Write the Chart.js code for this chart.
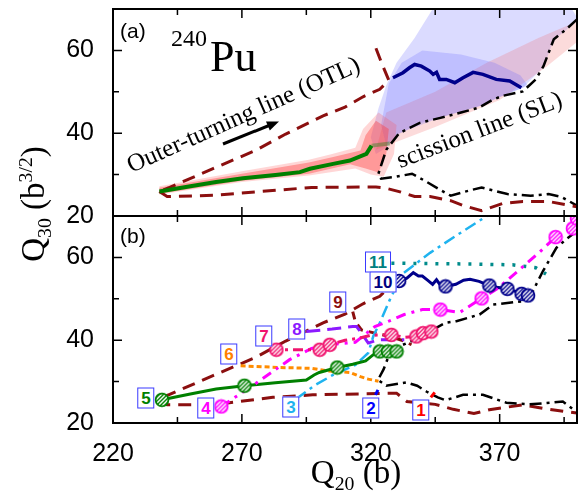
<!DOCTYPE html>
<html>
<head>
<meta charset="utf-8">
<script src="https://cdn.jsdelivr.net/npm/chart.js@4.4.1/dist/chart.umd.min.js"></script>
<style>
  body { margin: 0; background: #fff; width: 585px; height: 493px; position: relative; overflow: hidden; font-family: "Liberation Serif", serif; }
  canvas { position: absolute; left: 0; }
  .txt { position: absolute; white-space: nowrap; line-height: 1; color: #000; }
  .rot { transform: translate(-50%, -50%) rotate(var(--a)); }
  .tag { position: absolute; transform: translate(-50%, -50%); background: #fff; border: 1.5px solid #3a3aff;
         font: bold 17px "Liberation Sans", Arial, sans-serif; line-height: 17px; padding: 1px 3px; }
  sub, sup { font-size: 60%; line-height: 0; }
</style>
</head>
<body>
<canvas id="chartA" width="585" height="230" style="top:0"></canvas>
<canvas id="chartB" width="585" height="293" style="top:200px"></canvas>

<svg style="position:absolute;left:0;top:0" width="585" height="493">
  <line x1="223" y1="144" x2="269" y2="125.5" stroke="#000" stroke-width="3"/>
  <polygon points="279,121.5 269.8,130.6 266,121.4" fill="#000"/>
</svg>

<div class="txt" style="left:120px;top:20px;font:21px 'Liberation Sans',Arial;line-height:1">(a)</div>
<div class="txt" style="left:120px;top:225px;font:21px 'Liberation Sans',Arial;line-height:1">(b)</div>
<div class="txt" style="left:171px;top:26px;font-size:24px">240</div>
<div class="txt" style="left:210px;top:35px;font-size:44px">Pu</div>
<div class="txt rot" style="--a:-24deg;left:243px;top:114px;font-size:25px">Outer-turning line (OTL)</div>
<div class="txt rot" style="--a:-21deg;left:479px;top:129px;font-size:25px">scission line (SL)</div>
<div class="txt rot" style="--a:-90deg;left:33px;top:204px;font-size:33px">Q<sub>30</sub> (b<sup>3/2</sup>)</div>
<div class="txt rot" style="--a:0deg;left:356px;top:472px;font-size:33px">Q<sub>20</sub> (b)</div>

<div class="tag" style="left:421px;top:410px;color:#ff0000">1</div>
<div class="tag" style="left:371px;top:408px;color:#0000ff">2</div>
<div class="tag" style="left:291px;top:407px;color:#1fb3ef">3</div>
<div class="tag" style="left:206px;top:408px;color:#ff00ff">4</div>
<div class="tag" style="left:146px;top:398px;color:#008000">5</div>
<div class="tag" style="left:229px;top:354px;color:#ff8000">6</div>
<div class="tag" style="left:264px;top:336px;color:#f0146e">7</div>
<div class="tag" style="left:297px;top:329px;color:#8c1aff">8</div>
<div class="tag" style="left:338px;top:302px;color:#8b0f0f">9</div>
<div class="tag" style="left:378px;top:262px;color:#008080">11</div>
<div class="tag" style="left:383px;top:282px;color:#00007f">10</div>

<script>
// axes
const xTickVals = [220, 245, 270, 295, 320, 345, 370, 395];
const xTickLabels = ['220', '', '270', '', '320', '', '370', ''];
const yTickVals = [20, 30, 40, 50, 60];
const yTickLabels = ['20', '', '40', '', '60'];

// panel (a): Q20, Q30 pairs
const otlUpper = [[322, 60.5], [324.5, 56.5], [327, 52.8], [323.5, 50.6], [317, 48.8], [310, 46.3], [301.5, 44.2], [296, 42.5], [287, 39.8], [275.5, 35.9], [259, 31.5], [242, 26.9], [238, 25.9]];
const otlLowerA = [[238, 25.9], [241, 24.7], [259, 25.0], [297, 26.9], [322, 27.0], [326, 26.7], [331, 25.9], [337, 24.7], [343, 24.7], [351, 23.7], [356, 22.5], [363, 21.3], [371, 23.0], [379, 23.5], [389, 23.5], [400, 22.2]];
const slA = [[400, 67.5], [396, 65.2], [391, 62.7], [387, 56.2], [384, 53], [379, 50.1], [371, 49], [367, 48], [362, 46.2], [355, 45], [347, 43.7], [339, 42.5], [331, 40], [326, 36], [322.8, 29.9], [324, 29], [329, 29.4], [336, 30.2], [341, 28.5], [347, 26.3], [351, 24.9], [356, 25.8], [363, 26.9], [373, 25.3], [382, 24.9], [389, 25.3], [394, 24.6], [400, 22.5]];
const greenA = [[238, 25.9], [250, 27.2], [260, 28.2], [270.4, 29.1], [283, 29.9], [292.5, 30.6], [296.4, 31.4], [305.4, 32.6], [311.9, 33.4], [318.3, 35], [320.3, 37]];
const greenFadeA = [[320.3, 37], [327.4, 37.5]];
const navyA = [[328.6, 53.4], [332.5, 54.6], [335, 55.8], [337, 56.6], [339.6, 56.2], [342.9, 55], [344.2, 54.2], [345.5, 54.7], [346.7, 53], [349.3, 53], [352.6, 52.2], [355.8, 53.4], [359.7, 54.7], [363.5, 54.2], [368.7, 53], [373.9, 52.6], [378.4, 51]];
const blueOuter = [[320, 39], [323, 46], [326, 51.5], [330, 57], [337, 63], [344, 70], [398, 70], [400, 68], [396, 65], [391, 62.5], [387, 56], [379, 51], [371, 49], [362, 46.5], [347, 43.8], [339, 42.4], [331, 39.8], [326, 36.5], [322, 35]];
const blueInner = [[324, 42], [327, 52], [332, 57], [340, 60], [355, 59], [368, 57], [378, 54], [381, 51.5], [371, 49], [362, 46.5], [347, 43.8], [331, 40], [326, 37]];
const redCore = [[238, 25.4], [270, 28.5], [296, 30.2], [312, 32.5], [318, 31.5], [323, 30.5], [326, 35], [327, 41], [322, 43], [318, 39.5], [316, 35.8], [305, 34.2], [296, 32.9], [270, 30.2], [238, 26.8]];
const redHalo = [[238, 25.2], [270, 28.2], [296, 29.8], [314, 31.5], [320, 30], [325, 29.5], [329, 35], [330, 42], [323, 45], [317, 41], [314, 36.5], [305, 35], [296, 33.6], [270, 30.8], [238, 27.2]];
const redFan = [[322, 36], [345, 41.5], [370, 48], [388, 56], [400, 62], [400, 67], [385, 63], [365, 57], [345, 50], [326, 45]];

// panel (b)
const otlLowerB = [[238, 25.9], [241, 24.4], [259, 24.4], [282, 26.2], [297.5, 26.8], [330, 27.2], [334, 25.2], [345, 24.5], [352, 23.3], [360, 22.3], [366, 23.2], [379, 24.4], [387, 23.5], [400, 22.4]];
const slB = [[400, 66.4], [396, 64.5], [392, 62.3], [386.8, 56.7], [383, 52], [379, 49.4], [367.4, 48.6], [362.2, 46.2], [353.2, 44.6], [349, 44.2], [345.4, 43], [342, 42], [337, 40.1], [331, 38.5], [327.4, 36.9], [325, 33], [322.8, 30.4], [326, 29], [333.8, 29.8], [338, 29], [341.6, 27.6], [346, 26.2], [349, 25.5], [355.8, 26.8], [363.5, 26.8], [372.6, 24.9], [381.6, 24.5], [389.4, 24.9], [394.5, 25.2], [400, 22.6]];
const traj1 = [[343.3, 26.2], [344.8, 27.4]];
const traj2 = [[321.8, 26.8], [322.8, 28]];
const traj3 = [[291, 25.8], [298, 29], [305, 31.5], [314, 34], [319, 36.9], [321, 41], [323.5, 44.2], [327.4, 49.8], [329.3, 52.2], [331.2, 55.5], [343, 61.1], [353, 65.2], [365, 70]];
const traj4 = [[262, 24], [275.5, 29.6], [288.5, 35.3], [297, 38], [305, 39], [314, 39.5], [321.6, 43.3], [327, 44.6], [333, 46.2], [340, 47.4], [347, 47.4], [354.5, 46.7], [363, 50.1], [369, 52.4], [376.5, 56.4], [385.5, 61.3], [391.7, 64.9], [398.4, 67], [400, 69.4]];
const traj4Pts = [[262, 24], [347, 47.4], [363, 50.1], [391.7, 64.9], [398.4, 67], [400, 69.4]];
const traj5 = [[239, 25.6], [250, 27], [260, 28.2], [271, 29], [283, 29.7], [295, 30.4], [298, 31.6], [300, 32.2], [307, 33.4], [313, 34.2], [318, 35], [321, 36.5], [323.5, 37.3], [330, 37.3]];
const traj5Pts = [[239, 25.6], [271, 29], [307, 33.4], [323.5, 37.3], [326.7, 37.3], [330, 37.3]];
const traj6 = [[269.5, 33.8], [285, 33.4], [297, 33.2], [303, 32.6], [312, 32.2], [316, 31.2], [319, 30.6], [323, 30.1]];
const traj7 = [[281, 38.1], [283.4, 37.7], [292, 37.7], [300.2, 37.7], [304.1, 38.9], [310, 40], [315.7, 40.5], [320, 41.2], [328, 41.3], [333, 40.7], [337.7, 40.9], [340.3, 41.7], [343.5, 42.1]];
const traj7Pts = [[283.4, 37.7], [300.2, 37.7], [304.1, 38.9], [328, 41.3], [337.7, 40.9], [340.3, 41.7], [343.5, 42.1]];
const traj8 = [[295, 42.1], [305, 42.7], [313, 43.3], [314.5, 43.3], [316.4, 41.7], [319, 39.3], [323, 40.1], [333, 40.1]];
const traj9 = [[313, 46.9], [314, 44.5], [316.4, 42.5], [321.6, 41.7], [327, 41], [332, 40], [335.8, 38.9]];
const traj10 = [[331, 54.3], [334, 55], [336.5, 56.3], [338.5, 55.5], [340, 55.5], [342, 54.5], [344, 53.5], [345.5, 54.6], [347, 53.3], [349, 53], [353, 53.5], [356, 54.5], [358.5, 54.7], [362, 54.2], [366, 53.2], [369, 52.8], [373, 52.4], [377, 51.6], [380, 50.8]];
const traj10Pts = [[331, 54.3], [349, 53], [366, 53.2], [373, 52.4], [378.5, 51.2], [381, 50.8]];
const traj11 = [[328, 58.6], [343, 58.5], [360, 58.4], [375, 58.2], [384, 57.5], [388, 56]];

const MAROON = '#8b0f0f';
const toXY = arr => arr.map(([x, y]) => ({ x, y }));

function line(data, color, width, dash, order = 1) {
  return { data: toXY(data), showLine: true, borderColor: color, borderWidth: width,
           borderDash: dash || [], pointRadius: 0, fill: false, order, borderCapStyle: 'butt' };
}
function area(data, color, order = 10) {
  return { data: toXY(data), showLine: true, borderColor: 'rgba(0,0,0,0)', borderWidth: 0,
           backgroundColor: color, fill: 'shape', pointRadius: 0, order };
}
function hatchMarker(color) {
  const c = document.createElement('canvas');
  c.width = c.height = 16;
  const g = c.getContext('2d');
  g.beginPath(); g.arc(8, 8, 6.4, 0, Math.PI * 2);
  g.fillStyle = color; g.fill();
  g.save(); g.clip();
  g.strokeStyle = '#fff'; g.lineWidth = 1.4;
  for (let k = -6; k <= 6; k += 4) { g.beginPath(); g.moveTo(k, 16); g.lineTo(16 + k, 0); g.stroke(); }
  g.restore();
  g.beginPath(); g.arc(8, 8, 6.4, 0, Math.PI * 2);
  g.strokeStyle = color; g.lineWidth = 1.8; g.stroke();
  return c;
}
function marks(data, color) {
  return { data: toXY(data), showLine: false, pointStyle: hatchMarker(color), pointRadius: 7, order: 0 };
}

const frameTicks = {
  id: 'frameTicks',
  afterDraw(chart) {
    const { ctx, chartArea: a, scales: { x, y } } = chart;
    ctx.save();
    ctx.strokeStyle = '#000';
    ctx.lineWidth = 1.5;
    ctx.beginPath();
    xTickVals.forEach((v, i) => {
      const p = x.getPixelForValue(v), len = xTickLabels[i] ? 9 : 6;
      ctx.moveTo(p, a.bottom); ctx.lineTo(p, a.bottom - len);
      ctx.moveTo(p, a.top); ctx.lineTo(p, a.top + len);
    });
    yTickVals.forEach((v, i) => {
      const p = y.getPixelForValue(v), len = yTickLabels[i] ? 9 : 6;
      ctx.moveTo(a.left, p); ctx.lineTo(a.left + len, p);
      ctx.moveTo(a.right, p); ctx.lineTo(a.right - len, p);
    });
    ctx.stroke();
    ctx.lineWidth = 2;
    ctx.strokeRect(a.left, a.top, a.right - a.left, a.bottom - a.top);
    ctx.restore();
  }
};

function makeChart(id, datasets, showX, padding) {
  return new Chart(document.getElementById(id), {
    type: 'scatter',
    data: { datasets },
    options: {
      responsive: false, animation: false, devicePixelRatio: 1,
      layout: { padding },
      plugins: { legend: { display: false }, tooltip: { enabled: false } },
      scales: {
        x: {
          type: 'linear', min: 220, max: 400, display: showX,
          afterBuildTicks: s => { s.ticks = xTickVals.map(v => ({ value: v })); },
          afterFit: s => { s.height = showX ? 70 : 0; s.paddingLeft = 0; s.paddingRight = 0; },
          ticks: { callback: (v, i) => xTickLabels[i], padding: 8, color: '#000', maxRotation: 0,
                   font: { family: 'Liberation Sans', size: 25 } },
          grid: { display: false }, border: { display: false }
        },
        y: {
          type: 'linear', min: 20, max: 70,
          afterBuildTicks: s => { s.ticks = yTickVals.map(v => ({ value: v })); },
          afterFit: s => { s.width = 113; s.paddingTop = 0; s.paddingBottom = 0; },
          ticks: { callback: (v, i) => yTickLabels[i], padding: 11, color: '#000',
                   font: { family: 'Liberation Sans', size: 25 } },
          grid: { display: false }, border: { display: false }
        }
      }
    },
    plugins: [frameTicks]
  });
}

makeChart('chartA', [
  area(blueOuter, 'rgba(90,90,255,0.22)', 12),
  area(redFan, 'rgba(240,90,90,0.22)', 11),
  area(blueInner, 'rgba(90,90,255,0.22)', 10),
  area(redHalo, 'rgba(255,70,70,0.22)', 9),
  area(redCore, 'rgba(255,60,60,0.4)', 8),
  line(otlUpper, MAROON, 3, [13, 8], 3),
  line(otlLowerA, MAROON, 3, [13, 8], 3),
  line(slA, '#000', 2.5, [12, 5, 3, 5], 3),
  line(greenFadeA, 'rgba(0,128,0,0.35)', 4, [], 2),
  line(greenA, '#008000', 4, [], 1),
  line(navyA, '#00008b', 3.5, [], 1)
], false, { top: 9, right: 8, bottom: 14, left: 0 });

makeChart('chartB', [
  line(otlUpper, MAROON, 3, [13, 8], 5),
  line(otlLowerB, MAROON, 3, [13, 8], 5),
  line(traj9, MAROON, 3, [8, 6], 5),
  line(slB, '#000', 2.5, [12, 5, 3, 5], 4),
  line(traj3, '#1fb3ef', 2.5, [12, 5, 3, 5], 3),
  line(traj6, '#ff8c00', 3, [5, 3], 3),
  line(traj8, '#8c1aff', 3, [14, 7], 3),
  line(traj11, '#008b8b', 3.5, [3, 8], 3),
  line(traj7, '#f0146e', 3, [10, 5, 3, 5], 2),
  line(traj4, '#ff00ff', 3, [10, 6, 3, 6], 2),
  line(traj5, '#008000', 3, [], 2),
  line(traj10, '#00008b', 3, [], 2),
  line(traj1, '#ff0000', 3, [], 2),
  line(traj2, '#0000ff', 3, [], 2),
  marks(traj4Pts, '#ff00ff'),
  marks(traj5Pts, '#008000'),
  marks(traj7Pts, '#f0146e'),
  marks(traj10Pts, '#00008b')
], true, { top: 16, right: 8, bottom: 0, left: 0 });
</script>
</body>
</html>
